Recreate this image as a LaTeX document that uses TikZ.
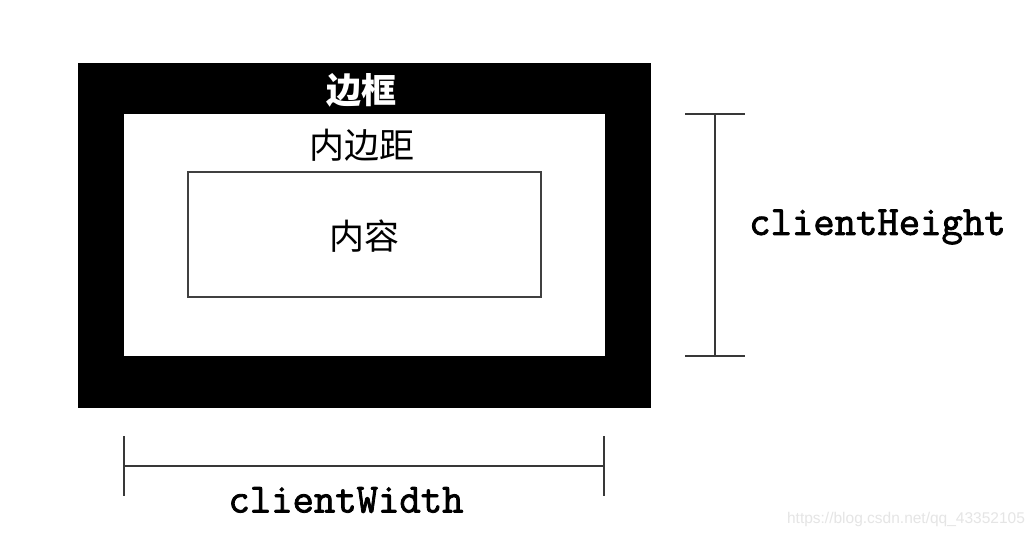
\documentclass[tikz,border=0pt]{standalone}
\usepackage{fontspec}
\newfontfamily\cjk{Noto Sans CJK SC}
\newfontfamily\wmfont{Liberation Sans}
\newfontfamily\codefont[FakeBold=2]{Latin Modern Mono}
\tikzset{
  box/.style={anchor=north west, inner sep=0pt, outer sep=0pt},
  dimline/.style={draw=black!78, line width=2.3pt},
  cjklabel/.style={font=\cjk\fontsize{35}{40}\selectfont, inner sep=0pt},
  monolabel/.style={font=\codefont\fontsize{41.5}{46}\selectfont, inner sep=0pt},
}
\begin{document}
\begin{tikzpicture}[x=1pt,y=-1pt]
\useasboundingbox[fill=white] (0,0) rectangle (1036,537);
% border box
\node[box, fill=black, minimum width=573pt, minimum height=345pt] (border) at (78,63) {};
% padding box
\node[box, fill=white, minimum width=481pt, minimum height=242pt] (padding) at (124,114) {};
% content box
\node[box, draw=black!75, line width=1.6pt, minimum width=353pt, minimum height=125pt] (content) at (188,172) {};
% labels
\node[cjklabel, text=white, font=\cjk\bfseries\fontsize{35}{40}\selectfont] (lborder) at (361,90) {边框};
\node[cjklabel] (lpadding) at (362,145) {内边距};
\node[cjklabel] (lcontent) at (364,236) {内容};
% height dimension
\coordinate (h1) at (715,114);
\coordinate (h2) at (715,356);
\coordinate (h1l) at (685,114);
\coordinate (h1r) at (745,114);
\coordinate (h2l) at (685,356);
\coordinate (h2r) at (745,356);
\draw[dimline] (h1) -- (h2);
\draw[dimline] (h1l) -- (h1r);
\draw[dimline] (h2l) -- (h2r);
\node[monolabel, anchor=west] (lheight) at (749,227) {clientHeight};
% width dimension
\coordinate (w1) at (124,466);
\coordinate (w2) at (604,466);
\coordinate (w1t) at (124,436);
\coordinate (w1b) at (124,496);
\coordinate (w2t) at (604,436);
\coordinate (w2b) at (604,496);
\draw[dimline] (w1) -- (w2);
\draw[dimline] (w1t) -- (w1b);
\draw[dimline] (w2t) -- (w2b);
\node[monolabel] (lwidth) at (346,500) {clientWidth};
% watermark
\node[font=\wmfont\fontsize{15.5}{18}\selectfont, text=black!10, inner sep=0pt] (wm) at (906,519) {https://blog.csdn.net/qq\_43352105};
\end{tikzpicture}
\end{document}
